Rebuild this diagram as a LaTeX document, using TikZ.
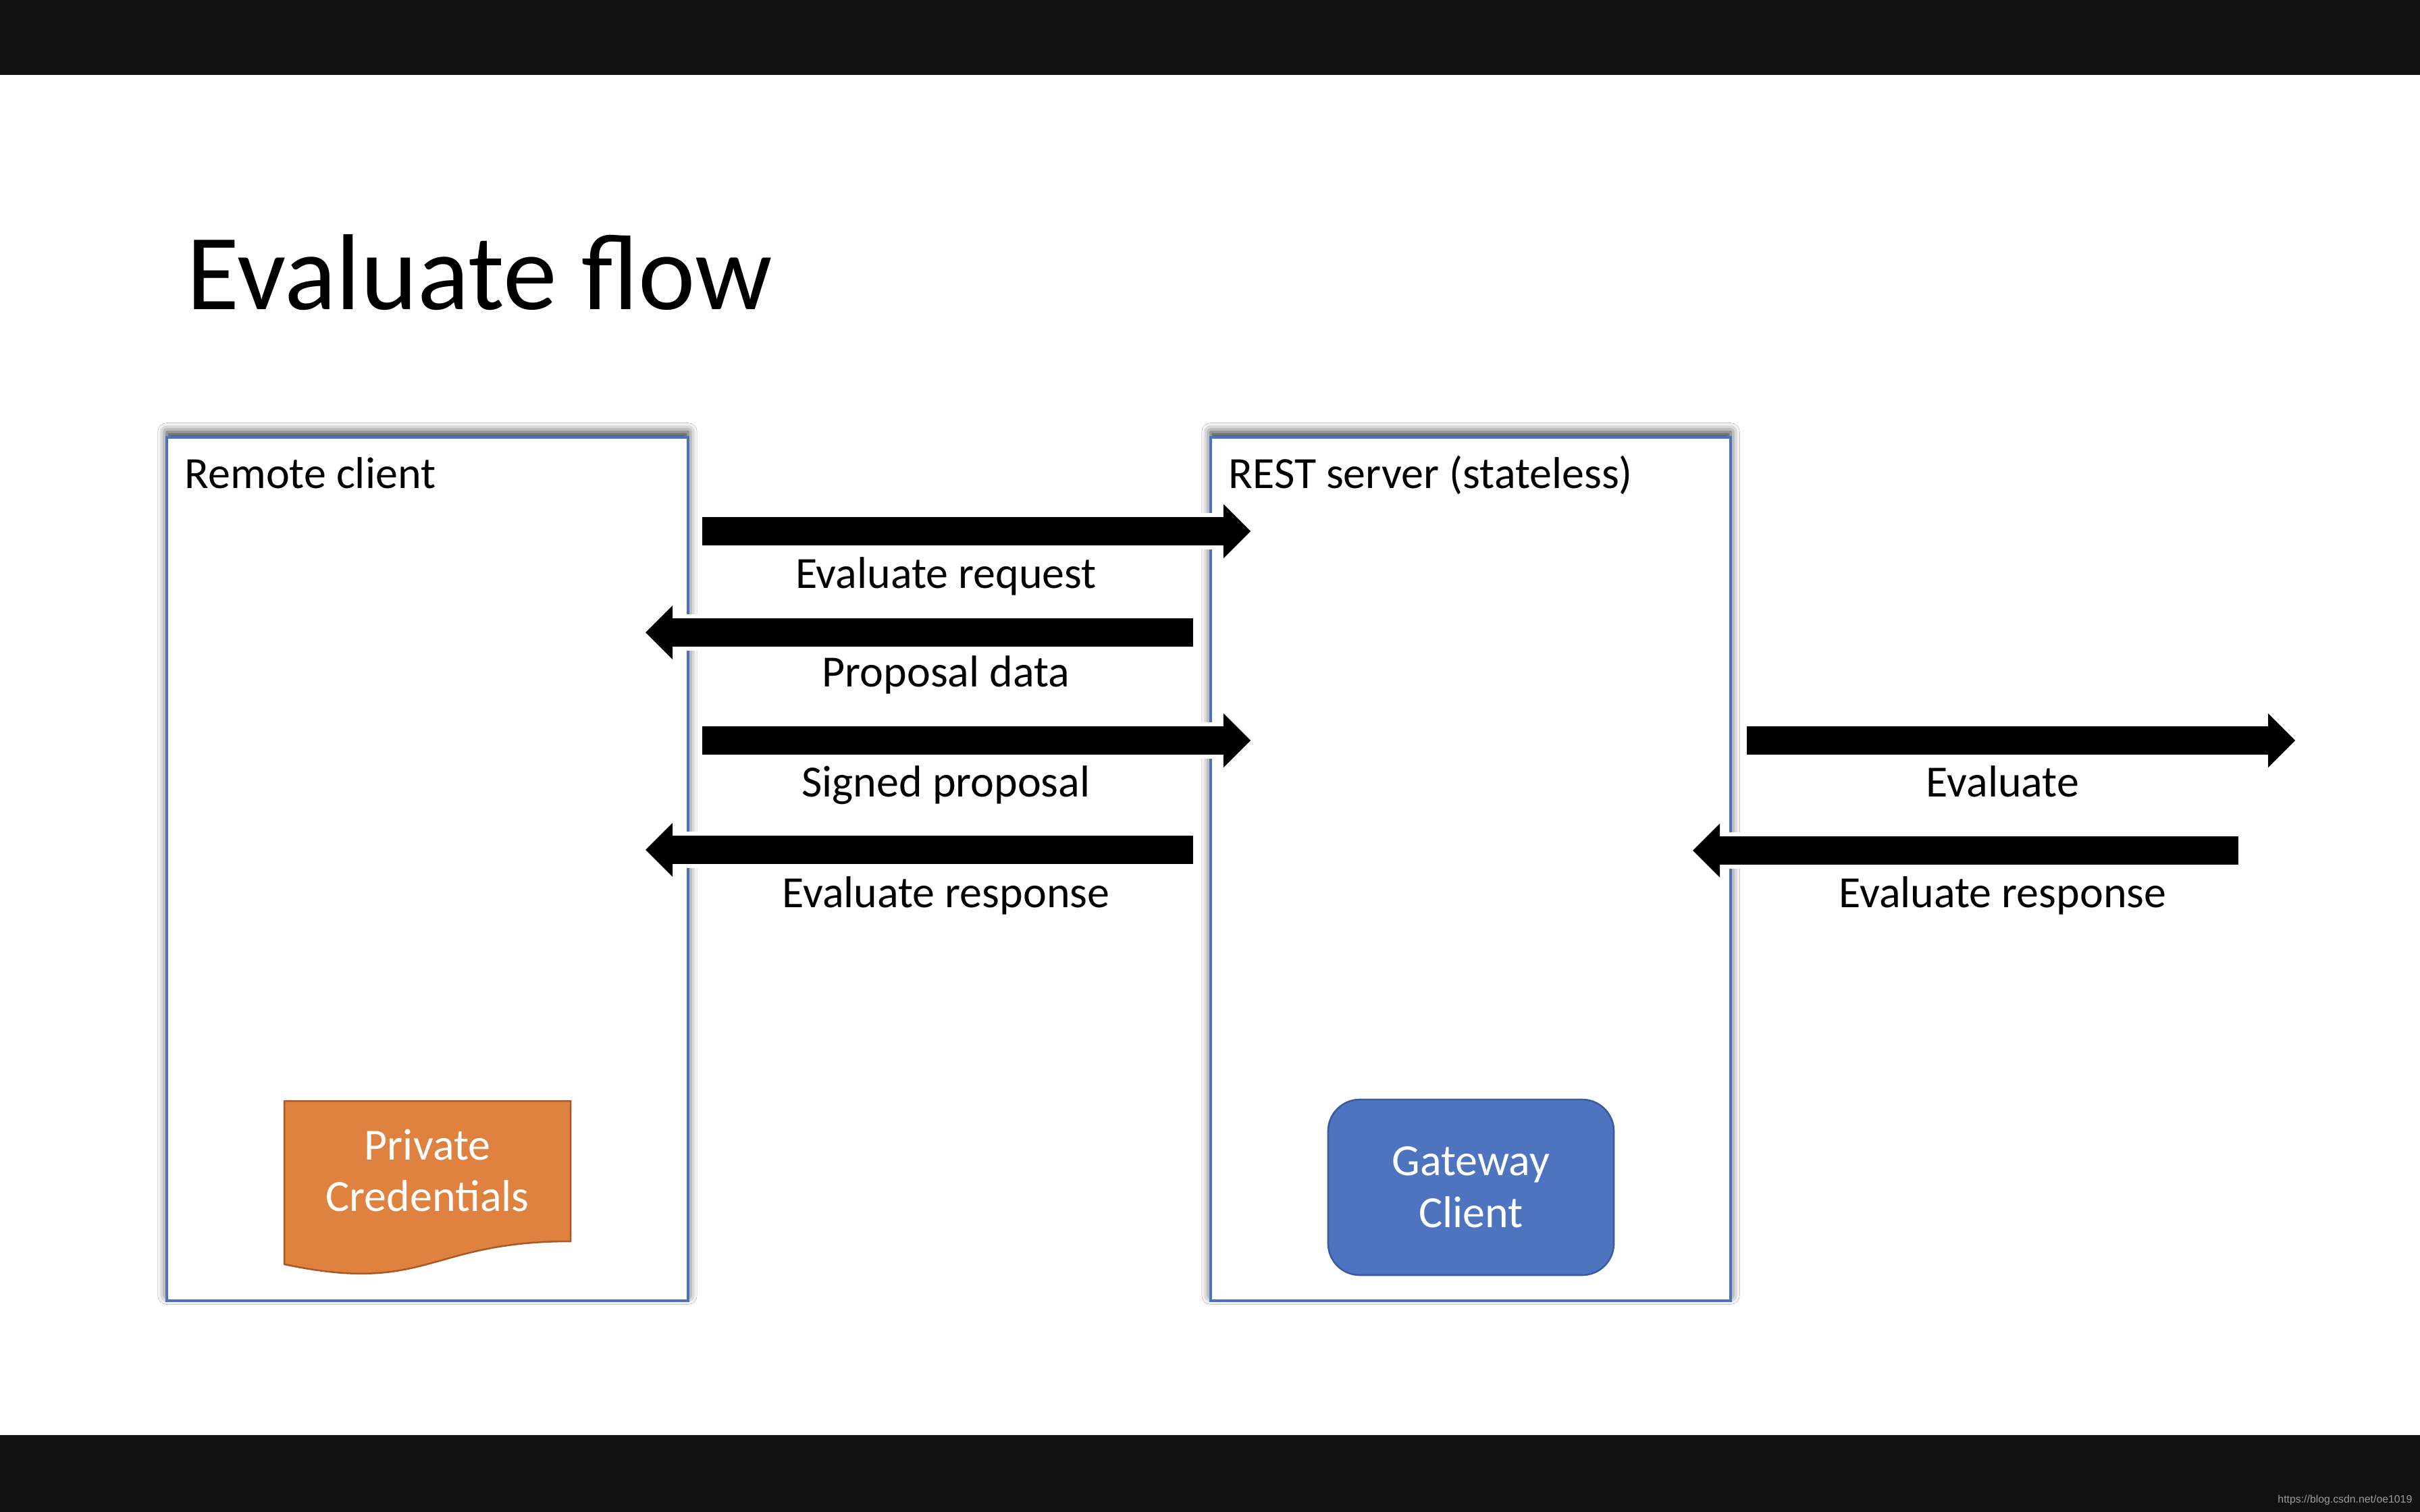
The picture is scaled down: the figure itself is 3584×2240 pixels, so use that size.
\documentclass[tikz,border=0pt]{standalone}
\usepackage{fontspec}
\setmainfont{Carlito}
\newfontfamily\wmfont{Liberation Sans}
\usetikzlibrary{arrows.meta,shadows.blur}
\definecolor{barcol}{HTML}{111111}
\definecolor{boxblue}{HTML}{4A72BE}
\definecolor{gwfill}{HTML}{4E74BF}
\definecolor{gwdraw}{HTML}{3A5C9E}
\definecolor{credfill}{HTML}{E0823F}
\definecolor{creddraw}{HTML}{A95A24}
\definecolor{wmgray}{HTML}{9C9C9C}
\begin{document}
\begin{tikzpicture}[x=0.01cm,y=-0.01cm,
  bodyfont/.style={font=\fontsize{18.78pt}{21.8pt}\selectfont},
  panel/.style={draw=boxblue, line width=0.04cm, fill=white, inner sep=0pt,
    blur shadow={shadow xshift=0pt, shadow yshift=0.08cm, shadow blur radius=0.13cm, shadow opacity=80}},
  paneltitle/.style={bodyfont, anchor=base west, inner sep=0pt},
  flowlabel/.style={bodyfont, anchor=base, inner sep=0pt},
  blockarrow/.style={line width=0.41cm, draw=black,
     -{Triangle[length=0.4cm, width=0.8cm, line width=0pt]},
     preaction={draw=white, line width=0.53cm, -}},
  credshape/.style={fill=credfill, draw=creddraw, line width=0.025cm},
  gwbox/.style={draw=gwdraw, fill=gwfill, line width=0.025cm, rounded corners=0.47cm,
     minimum width=4.23cm, minimum height=2.6cm, text=white, align=center, bodyfont, inner sep=0pt},
  celltext/.style={text=white, align=center, bodyfont, inner sep=0pt}
]
% page and bars
\useasboundingbox (0,0) rectangle (3584,2240);
\fill[white] (0,0) rectangle (3584,2240);
\fill[barcol] (0,0) rectangle (3584,111);
\fill[barcol] (0,2126) rectangle (3584,2240);

% title
\node[anchor=base west, inner sep=0pt, font=\fontsize{45.5pt}{54pt}\selectfont] (title) at (276,459) {Evaluate flow};

% panels
\node[panel, minimum width=7.72cm, minimum height=12.79cm] (client) at (633,1287.5) {};
\node[panel, minimum width=7.70cm, minimum height=12.79cm] (server) at (2178,1287.5) {};
\node[paneltitle] (clienttitle) at (273,724) {Remote client};
\node[paneltitle] (servertitle) at (1819,724) {REST server (stateless)};

% private credentials (document shape)
\draw[credshape] (421,1631) -- (845,1631) -- (845,1839)
   .. controls (633,1839) and (633,1918) .. (421,1873) -- cycle;
\node[celltext] (cred) at (633,1734) {Private\\Credentials};

% gateway client
\node[gwbox] (gateway) at (2178.5,1759) {Gateway\\Client};

% arrow end points
\coordinate (a1s) at (1040,787);  \coordinate (a1e) at (1852,787);
\coordinate (a2s) at (1767,937);  \coordinate (a2e) at (956,937);
\coordinate (a3s) at (1040,1097); \coordinate (a3e) at (1852,1097);
\coordinate (a4s) at (1767,1259); \coordinate (a4e) at (956,1259);
\coordinate (a5s) at (2587,1097); \coordinate (a5e) at (3399,1097);
\coordinate (a6s) at (3315,1260); \coordinate (a6e) at (2507,1260);

\draw[blockarrow] (a1s) -- (a1e);
\draw[blockarrow] (a2s) -- (a2e);
\draw[blockarrow] (a3s) -- (a3e);
\draw[blockarrow] (a4s) -- (a4e);
\draw[blockarrow] (a5s) -- (a5e);
\draw[blockarrow] (a6s) -- (a6e);

% labels
\node[flowlabel] (l1) at (1401,871)  {Evaluate request};
\node[flowlabel] (l2) at (1401,1017) {Proposal data};
\node[flowlabel] (l3) at (1401,1180) {Signed proposal};
\node[flowlabel] (l4) at (1401,1344) {Evaluate response};
\node[flowlabel] (l5) at (2966,1180) {Evaluate};
\node[flowlabel] (l6) at (2966,1344) {Evaluate response};

% watermark
\node[anchor=base east, inner sep=0pt, text=wmgray, font=\wmfont\fontsize{4.5pt}{5.4pt}\selectfont] (wm) at (3573,2226) {https://blog.csdn.net/oe1019};
\end{tikzpicture}
\end{document}
